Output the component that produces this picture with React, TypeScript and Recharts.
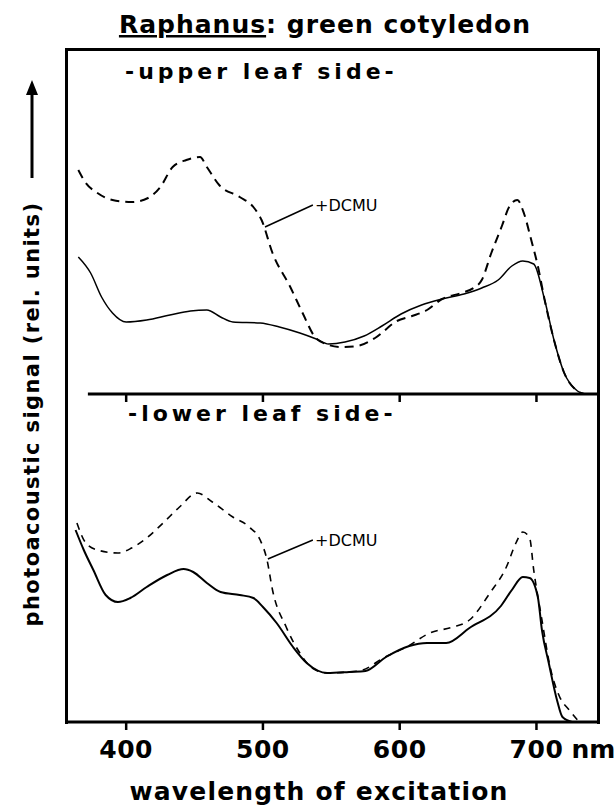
import React from 'react';
import { LineChart, Line, XAxis, YAxis, ReferenceLine } from 'recharts';

// wavelength ticks (nm)
const xTicks = [400, 500, 600, 700];
const xUnit = 'nm';
const xLabel = 'wavelength of excitation';
const yLabel = 'photoacoustic signal (rel. units)';
const title = 'Raphanus';
const titleRest = ': green cotyledon';
const upperLabel = '-upper leaf side-';
const lowerLabel = '-lower leaf side-';
const dcmuLabel = '+DCMU';

// [wavelength nm, signal rel. units]
const upperControl: [number, number][] = [
  [365, 137], [374, 121], [382, 97], [390, 81], [400, 72], [415, 74], [432, 79], [447, 83],
  [459, 84], [469, 77], [478, 72], [498, 71], [512, 67], [527, 61], [539, 55], [548, 50],
  [560, 52], [574, 58], [587, 68], [601, 80], [616, 89], [631, 95], [647, 100], [660, 106],
  [672, 114], [682, 128], [690, 133], [698, 130], [706, 94], [713, 53], [720, 22], [730, 3], [735, 0],
];
const upperDcmu: [number, number][] = [
  [365, 224], [370, 212], [379, 201], [390, 194], [404, 192], [416, 196], [425, 207], [434, 227],
  [444, 234], [454, 237], [459, 227], [468, 209], [483, 197], [493, 187], [499, 174], [507, 141],
  [520, 107], [529, 81], [538, 57], [546, 50], [557, 47], [569, 48], [582, 56], [598, 73],
  [609, 78], [620, 84], [631, 95], [645, 101], [654, 106], [660, 114], [667, 141], [675, 169],
  [680, 187], [686, 194], [691, 180], [696, 155], [701, 128], [706, 94], [713, 53], [720, 22],
  [730, 3], [735, 0],
];
const lowerControl: [number, number][] = [
  [363, 192], [369, 172], [376, 152], [385, 127], [394, 120], [403, 124], [415, 135], [430, 147],
  [442, 153], [449, 150], [459, 139], [469, 130], [483, 127], [493, 124], [500, 115], [510, 99],
  [522, 75], [532, 59], [547, 49], [563, 50], [575, 51], [590, 65], [607, 76], [620, 79],
  [634, 79], [651, 94], [674, 116], [682, 132], [690, 145], [695, 144], [701, 125], [704, 92],
  [709, 59], [715, 22], [719, 5], [726, 0],
];
const lowerDcmu: [number, number][] = [
  [364, 199], [370, 180], [379, 172], [394, 169], [404, 174], [415, 184], [427, 199], [439, 215],
  [452, 229], [463, 220], [478, 205], [490, 195], [498, 182], [503, 162], [507, 132], [517, 95],
  [527, 69], [536, 54], [547, 49], [563, 50], [573, 52], [588, 64], [605, 75], [622, 89],
  [639, 95], [651, 102], [666, 129], [678, 155], [685, 179], [690, 190], [695, 184], [698, 152],
  [704, 102], [710, 55], [717, 25], [724, 12], [730, 2],
];
// leader lines for the +DCMU annotation: [from, to]
const upperLeader: [number, number][] = [[501.5, 167], [536.5, 189]];
const lowerLeader: [number, number][] = [[503.6, 163], [536.5, 182]];

const toPts = (a: [number, number][]) => a.map(([nm, v]) => ({ nm, v }));

const FONT = 'DejaVu Sans';
const X_DOMAIN: [number, number] = [356, 745];

const BottomTick = (props: any) => {
  const { x, y, payload } = props;
  const isLast = payload.value === xTicks[xTicks.length - 1];
  return (
    <g>
      <text x={x} y={y + 26} textAnchor="middle" fontSize={25} fontWeight="bold" fontFamily={FONT} fill="#000" letterSpacing={0.5}>
        {payload.value}
      </text>
      {isLast && (
        <text x={x + 35} y={y + 26} textAnchor="start" fontSize={25} fontWeight="bold" fontFamily={FONT} fill="#000">
          {xUnit}
        </text>
      )}
    </g>
  );
};

export default function App() {
  return (
    <div style={{ position: 'absolute', left: 0, top: 0, width: 616, height: 810, background: '#fff' }}>
      {/* frame */}
      <div
        style={{
          position: 'absolute', left: 65, top: 48, width: 535, height: 676,
          border: '3px solid #000', borderBottom: 'none', boxSizing: 'border-box',
        }}
      />
      {/* upper panel */}
      <div style={{ position: 'absolute', left: 0, top: 0 }}>
        <LineChart width={616} height={404} margin={{ top: 49, right: 18, left: 66, bottom: 0 }}>
          <XAxis
            type="number" dataKey="nm" domain={X_DOMAIN} ticks={xTicks} allowDataOverflow
            axisLine={false} tickLine={{ stroke: '#000', strokeWidth: 2.5 }} tickSize={8}
            tickFormatter={() => ''} height={10}
          />
          <YAxis type="number" domain={[0, 345]} hide allowDataOverflow />
          <ReferenceLine segment={[{ x: 372, y: 0 }, { x: 745, y: 0 }]} stroke="#000" strokeWidth={3} ifOverflow="visible" />
          <ReferenceLine
            segment={upperLeader.map(([x, y]) => ({ x, y }))}
            stroke="#000" strokeWidth={1.5} ifOverflow="visible"
          />
          <Line data={toPts(upperDcmu)} dataKey="v" type="monotone" dot={false} stroke="#000"
            strokeWidth={2} strokeDasharray="9 6" isAnimationActive={false} />
          <Line data={toPts(upperControl)} dataKey="v" type="monotone" dot={false} stroke="#000"
            strokeWidth={1.5} isAnimationActive={false} />
        </LineChart>
      </div>
      {/* lower panel */}
      <div style={{ position: 'absolute', left: 0, top: 0 }}>
        <LineChart width={616} height={810} margin={{ top: 394, right: 18, left: 66, bottom: 0 }}>
          <XAxis
            type="number" dataKey="nm" domain={X_DOMAIN} ticks={xTicks} allowDataOverflow
            axisLine={{ stroke: '#000', strokeWidth: 3 }} tickLine={{ stroke: '#000', strokeWidth: 2.5 }}
            tickSize={8} height={88} tick={<BottomTick />}
          />
          <YAxis type="number" domain={[0, 328]} hide allowDataOverflow />
          <ReferenceLine
            segment={lowerLeader.map(([x, y]) => ({ x, y }))}
            stroke="#000" strokeWidth={1.5} ifOverflow="visible"
          />
          <Line data={toPts(lowerDcmu)} dataKey="v" type="monotone" dot={false} stroke="#000"
            strokeWidth={1.6} strokeDasharray="7 6" isAnimationActive={false} />
          <Line data={toPts(lowerControl)} dataKey="v" type="monotone" dot={false} stroke="#000"
            strokeWidth={2} isAnimationActive={false} />
        </LineChart>
      </div>
      {/* text overlay */}
      <svg width={616} height={810} style={{ position: 'absolute', left: 0, top: 0, pointerEvents: 'none' }}>
        <text x={325} y={33} textAnchor="middle" fontSize={25} fontWeight="bold" fontFamily={FONT} letterSpacing={1} fill="#000">
          <tspan style={{ textDecoration: 'underline' }}>{title}</tspan>
          {titleRest}
        </text>
        <text x={125} y={79} fontSize={22} fontWeight="bold" fontFamily={FONT} letterSpacing={4} fill="#000">{upperLabel}</text>
        <text x={128} y={421} fontSize={22} fontWeight="bold" fontFamily={FONT} letterSpacing={4} fill="#000">{lowerLabel}</text>
        <text x={315} y={211} fontSize={16} fontFamily={FONT} fill="#000">{dcmuLabel}</text>
        <text x={315} y={546} fontSize={16} fontFamily={FONT} fill="#000">{dcmuLabel}</text>
        <text x={319} y={800} textAnchor="middle" fontSize={25} fontWeight="bold" fontFamily={FONT} letterSpacing={1.2} fill="#000">{xLabel}</text>
        <text x={39} y={414} transform="rotate(-90 39 414)" textAnchor="middle" fontSize={21} fontWeight="bold"
          fontFamily={FONT} letterSpacing={1.4} fill="#000">{yLabel}</text>
        <line x1={32} y1={178} x2={32} y2={92} stroke="#000" strokeWidth={3} />
        <polygon points="32,80 26,95 38,95" fill="#000" />
      </svg>
    </div>
  );
}
